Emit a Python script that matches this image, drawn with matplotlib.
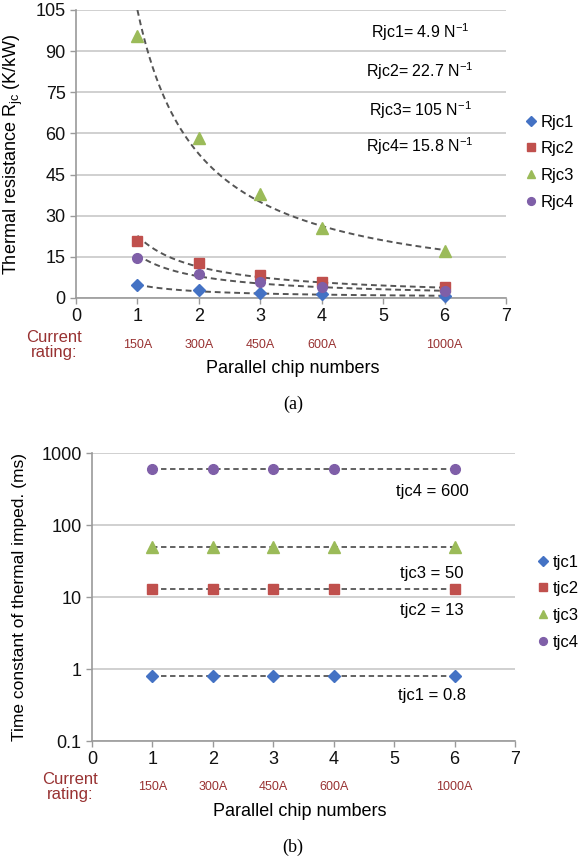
import numpy as np
import matplotlib
matplotlib.use("Agg")
import matplotlib.pyplot as plt
from matplotlib.ticker import FixedLocator, FixedFormatter

plt.rcParams['font.family'] = ['Liberation Sans', 'DejaVu Sans']
plt.rcParams['mathtext.fontset'] = 'custom'
plt.rcParams['mathtext.rm'] = 'Liberation Sans'
plt.rcParams['mathtext.it'] = 'Liberation Sans:italic'
plt.rcParams['axes.unicode_minus'] = False

# ---------------- data ----------------
chips = [1, 2, 3, 4, 6]
current_labels = ["150A", "300A", "450A", "600A", "1000A"]

rjc_names = ["Rjc1", "Rjc2", "Rjc3", "Rjc4"]
rjc1 = [4.6, 3.0, 1.8, 1.3, 0.7]
rjc2 = [20.8, 12.7, 8.3, 5.8, 3.9]
rjc3 = [95.5, 58.5, 38.0, 25.5, 17.0]
rjc4 = [14.5, 8.8, 5.8, 4.0, 2.5]
rjc_coef = [4.9, 22.7, 105, 15.8]
rjc_coef_text = ["4.9", "22.7", "105", "15.8"]

tjc_names = ["tjc1", "tjc2", "tjc3", "tjc4"]
tjc1 = [0.8, 0.8, 0.8, 0.8, 0.8]
tjc2 = [13, 13, 13, 13, 13]
tjc3 = [50, 50, 50, 50, 50]
tjc4 = [600, 600, 600, 600, 600]
tjc_text = ["tjc1 = 0.8", "tjc2 = 13", "tjc3 = 50", "tjc4 = 600"]

colors = ["#4472C4", "#C0504D", "#9BBB59", "#7F5FA8"]
markers = ["D", "s", "^", "o"]
msizes = [6, 7, 8, 7]
red_txt = "#983232"
grid_c = "#C8C8C8"
spine_c = "#9A9A9A"

W, H = 586, 861
fig = plt.figure(figsize=(W / 100, H / 100), dpi=100)

def frac_box(l, r, t, b):
    return [l / W, 1 - b / H, (r - l) / W, (b - t) / H]

def fx(px):
    return px / W

def fy(py):
    return 1 - py / H

def style_axes(ax):
    for s in ["top", "right"]:
        ax.spines[s].set_visible(False)
    for s in ["left", "bottom"]:
        ax.spines[s].set_color(spine_c)
        ax.spines[s].set_linewidth(1.2)
    ax.tick_params(axis="both", colors=spine_c, labelcolor="#111111",
                   labelsize=13, length=4, width=1.0)
    ax.tick_params(axis="x", pad=3)
    ax.set_axisbelow(True)
    ax.grid(axis="y", color=grid_c, linewidth=1.2)
    ax.set_xlim(0, 7)
    ax.set_xticks(range(0, 8))

leg_kw = dict(frameon=False, fontsize=12, handlelength=0.6, handletextpad=0.3,
              labelspacing=0.7, markerscale=0.8, borderpad=0, borderaxespad=0)

# ---------------- (a) ----------------
ax1 = fig.add_axes(frac_box(76, 506, 10, 298))
style_axes(ax1)
ax1.set_ylim(0, 105)
ax1.set_yticks([0, 15, 30, 45, 60, 75, 90, 105])

rjc_series = [rjc1, rjc2, rjc3, rjc4]
xx = np.linspace(1, 6, 200)
for a in rjc_coef:
    ax1.plot(xx, a / xx, linestyle=(0, (3, 2)), color="#555555", lw=1.4, zorder=2)
for name, ys, c, m, ms in zip(rjc_names, rjc_series, colors, markers, msizes):
    ax1.plot(chips, ys, linestyle="none", marker=m, color=c, markersize=ms,
             label=name, zorder=3, clip_on=False)

for i, (n, t) in enumerate(zip(rjc_names, rjc_coef_text)):
    ax1.text(fx(420), fy([32, 71, 110, 146][i]), f"{n}= {t} N$^{{\\mathrm{{-1}}}}$",
             transform=fig.transFigure, ha="center", va="center", fontsize=11.5)

ax1.set_ylabel("Thermal resistance R$_{\\mathrm{jc}}$ (K/kW)", fontsize=13)
ax1.yaxis.set_label_coords((25 - 76) / 430, 0.5)

ax1.legend(loc="center left", bbox_to_anchor=(fx(526), fy(162)),
           bbox_transform=fig.transFigure, **leg_kw)

for x, lab in zip(chips, current_labels):
    ax1.text(x, -47 / 288, lab, transform=ax1.get_xaxis_transform(), ha="center",
             va="center", fontsize=9, color=red_txt)
fig.text(fx(54), fy(345), "Current\nrating:", ha="center", va="center",
         fontsize=12, color=red_txt, linespacing=1.05)
fig.text(fx(293), fy(368), "Parallel chip numbers", ha="center", va="center",
         fontsize=13)
fig.text(fx(293), fy(404), "(a)", ha="center", va="center", fontsize=13,
         family="Liberation Serif")

# ---------------- (b) ----------------
ax2 = fig.add_axes(frac_box(92, 515, 453, 741))
style_axes(ax2)
ax2.set_yscale("log")
ax2.set_ylim(0.1, 1000)
ax2.yaxis.set_major_locator(FixedLocator([0.1, 1, 10, 100, 1000]))
ax2.yaxis.set_major_formatter(FixedFormatter(["0.1", "1", "10", "100", "1000"]))
ax2.yaxis.set_minor_locator(FixedLocator([]))

tjc_series = [tjc1, tjc2, tjc3, tjc4]
for name, ys, c, m, ms in zip(tjc_names, tjc_series, colors, markers, msizes):
    ax2.plot(chips, ys, linestyle=(0, (3, 2)), color="#555555", lw=1.3, zorder=2)
    ax2.plot(chips, ys, linestyle="none", marker=m, color=c, markersize=ms,
             label=name, zorder=3)

tjc_text_y = [0.43, 6.5, 21, 290]
for txt, yv in zip(tjc_text, tjc_text_y):
    ax2.text(5.63, yv, txt, ha="center", va="center", fontsize=12)

ax2.set_ylabel("Time constant of thermal imped. (ms)", fontsize=12.5)
ax2.yaxis.set_label_coords((27 - 92) / 423, 0.5)

ax2.legend(loc="center left", bbox_to_anchor=(fx(538), fy(602)),
           bbox_transform=fig.transFigure, **leg_kw)

for x, lab in zip(chips, current_labels):
    ax2.text(x, -46 / 288, lab, transform=ax2.get_xaxis_transform(), ha="center",
             va="center", fontsize=9, color=red_txt)
fig.text(fx(70), fy(787), "Current\nrating:", ha="center", va="center",
         fontsize=12, color=red_txt, linespacing=1.05)
fig.text(fx(300), fy(811), "Parallel chip numbers", ha="center", va="center",
         fontsize=13)
fig.text(fx(293), fy(847), "(b)", ha="center", va="center", fontsize=13,
         family="Liberation Serif")

fig.savefig("out.png", dpi=100)
